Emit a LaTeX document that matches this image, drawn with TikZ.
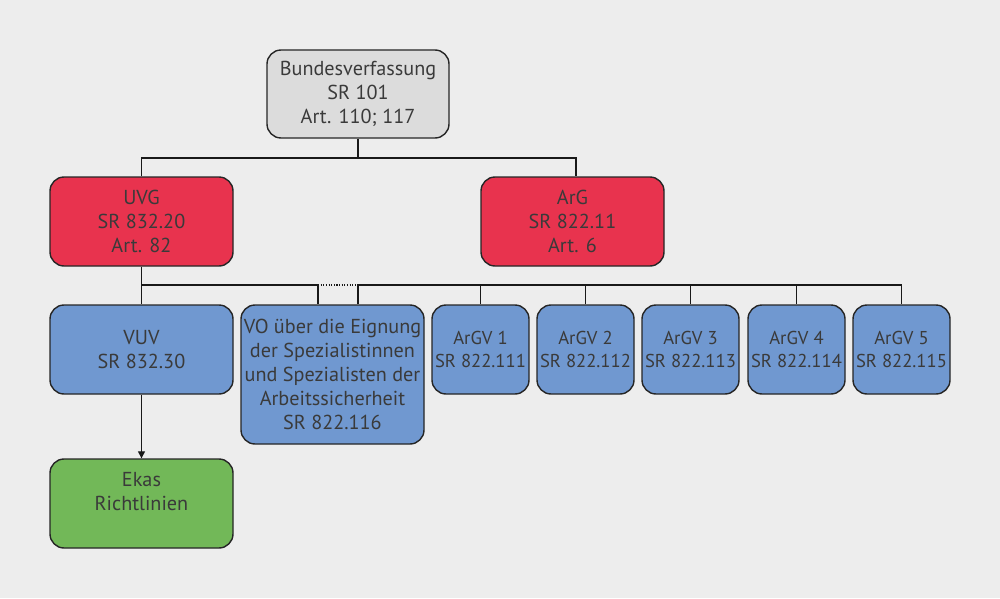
\documentclass[tikz,border=0pt]{standalone}
\usepackage{fontspec}
\setmainfont{PT Sans}
\usetikzlibrary{positioning,arrows.meta}
\definecolor{bgcol}{HTML}{EDEDED}
\definecolor{txtcol}{HTML}{3A3A3A}
\definecolor{lawgray}{HTML}{DCDCDC}
\definecolor{lawred}{HTML}{E8334E}
\definecolor{lawblue}{HTML}{7098D0}
\definecolor{lawgreen}{HTML}{72B858}
\newlength{\pxu}\setlength{\pxu}{0.02cm}
\tikzset{
  law/.style={draw=black!85,line width=0.8pt,rounded corners=8pt,text=txtcol,
    align=center,inner sep=1pt,minimum height=89\pxu,
    font=\fontsize{11.5}{13.6}\selectfont},
  wide/.style={law,minimum width=183\pxu},
  narrow/.style={law,minimum width=97\pxu,inner sep=0pt,
    font=\fontsize{10.6}{13.6}\selectfont},
  link/.style={line width=0.75pt,black!90},
}
\begin{document}
\begin{tikzpicture}[x=0.02cm,y=-0.02cm]
  \fill[bgcol] (0,0) rectangle (1000,598);
  % federal constitution
  \node[wide,fill=lawgray,minimum width=182\pxu,minimum height=88\pxu] (bv) at (358,94)
    {Bundesverfassung\\SR 101\\Art. 110; 117};
  % laws
  \node[wide,fill=lawred] (uvg) at (141.5,221.5) {UVG\\SR 832.20\\Art. 82};
  \node[wide,fill=lawred] (arg) at (572.5,221.5) {ArG\\SR 822.11\\Art. 6};
  % ordinances
  \node[wide,fill=lawblue] (vuv) at (141.5,349.5) {VUV\\SR 832.30};
  \node[wide,fill=lawblue,minimum height=139\pxu] (vo) at (332.5,374.5)
    {VO über die Eignung\\der Spezialistinnen\\und Spezialisten der\\Arbeitssicherheit\\SR 822.116};
  \foreach \i/\x in {1/480.5,2/585.5,3/690.5,4/796.5,5/901.5}
    \node[narrow,fill=lawblue] (argv\i) at (\x,349.5) {ArGV \i\\SR 822.11\i};
  \node[wide,fill=lawgreen] (ekas) at (141.5,503.5) {Ekas\\Richtlinien\\\mbox{}};
  % top connectors
  \coordinate (j0) at (358,158);
  \coordinate (j3) at (576,158);
  \draw[link] (bv.south) -- (j0);
  \draw[link] (uvg.north) |- (j3) -- (j3 |- arg.north);
  % second level
  \coordinate (j1) at (318,285);
  \coordinate (j2) at (358,285);
  \draw[link] (uvg.south) -- (vuv.north);
  \draw[link] (uvg.south |- j1) -- (j1) -- (j1 |- vo.north);
  \draw[link,dash pattern=on 0.6pt off 0.9pt] (j1) -- (j2);
  \draw[link] (j2 |- vo.north) -- (j2) -| (argv5.north);
  \foreach \i in {1,...,4}
    \draw[link] (argv\i.north) -- (argv\i.north |- j2);
  \draw[link,-{Triangle[length=0.14cm,width=0.14cm]}] (vuv.south) -- (ekas.north);
\end{tikzpicture}
\end{document}
